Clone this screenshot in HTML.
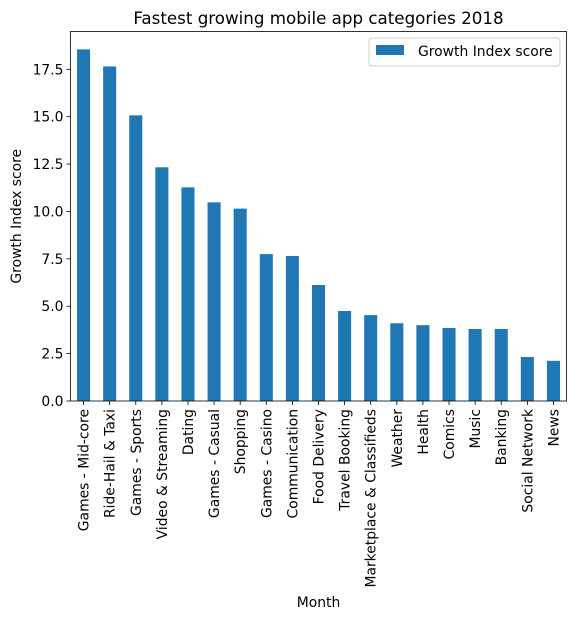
<!DOCTYPE html>
<html><head><meta charset="utf-8"><style>body{margin:0;background:#fff}svg{display:block;font-family:"DejaVu Sans","Liberation Sans",sans-serif}</style></head>
<body>
<svg id="chart" width="576" height="619"></svg>
<script>
const categories=["Games - Mid-core","Ride-Hail & Taxi","Games - Sports","Video & Streaming","Dating","Games - Casual","Shopping","Games - Casino","Communication","Food Delivery","Travel Booking","Marketplace & Classifieds","Weather","Health","Comics","Music","Banking","Social Network","News"];
const values=[18.55,17.65,15.07,12.33,11.27,10.48,10.15,7.75,7.65,6.12,4.75,4.53,4.1,4.0,3.85,3.8,3.8,2.32,2.12];
const yTicks=[0,2.5,5,7.5,10,12.5,15,17.5];
const yTickLabels=["0.0","2.5","5.0","7.5","10.0","12.5","15.0","17.5"];
const NS="http://www.w3.org/2000/svg";
const svg=document.getElementById('chart');
const L=70.5,R=566.5,T=31.5,B=401;
const yScale=v=>B-v*(B-69.3)/17.5;
const step=(R-L)/categories.length;
const xScale=i=>L+step*(i+0.5);
function mk(tag,attrs,text){const e=document.createElementNS(NS,tag);for(const k in attrs)e.setAttribute(k,attrs[k]);if(text!=null)e.textContent=text;svg.appendChild(e);return e;}
categories.forEach((c,i)=>{
  const y=yScale(values[i]);
  const r=mk('rect',{x:xScale(i)-step/4,y:y,width:step/2,height:B-y,fill:'#1f77b4'});
  
  
  const t=mk('line',{x1:xScale(i),x2:xScale(i),y1:B,y2:B+4,stroke:'#000','stroke-width':0.8});
  
  
  const lb=mk('text',{x:0,y:0,'font-size':13.9,'text-anchor':'end',transform:`translate(${xScale(i)+5},${B+8}) rotate(-90)`},c);
  
  
});
yTicks.forEach((v,i)=>{
  const y=yScale(v);
  const t=mk('line',{x1:L-4,x2:L,y1:y,y2:y,stroke:'#000','stroke-width':0.8});
  
  
  const lb=mk('text',{x:L-7,y:y+5,'font-size':13.9,'text-anchor':'end'},yTickLabels[i]);
  
  
});
const fr=mk('rect',{x:L,y:T,width:R-L,height:B-T,fill:'none',stroke:'#000','stroke-width':0.8});


const ti=mk('text',{x:(L+R)/2,y:24,'font-size':16.7,'text-anchor':'middle'},'Fastest growing mobile app categories 2018');


const yt=mk('text',{x:0,y:0,'font-size':13.9,'text-anchor':'middle',transform:`translate(21,${(T+B)/2}) rotate(-90)`},'Growth Index score');


const xt=mk('text',{x:(L+R)/2,y:607,'font-size':13.9,'text-anchor':'middle'},'Month');


const lg=mk('rect',{x:369,y:38,width:191,height:28,rx:3,fill:'#fff',stroke:'#ccc','stroke-width':1});


const ls=mk('rect',{x:376,y:45,width:28,height:10,fill:'#1f77b4'});


const lt=mk('text',{x:418,y:56,'font-size':13.9},'Growth Index score');


</script>
</body></html>
